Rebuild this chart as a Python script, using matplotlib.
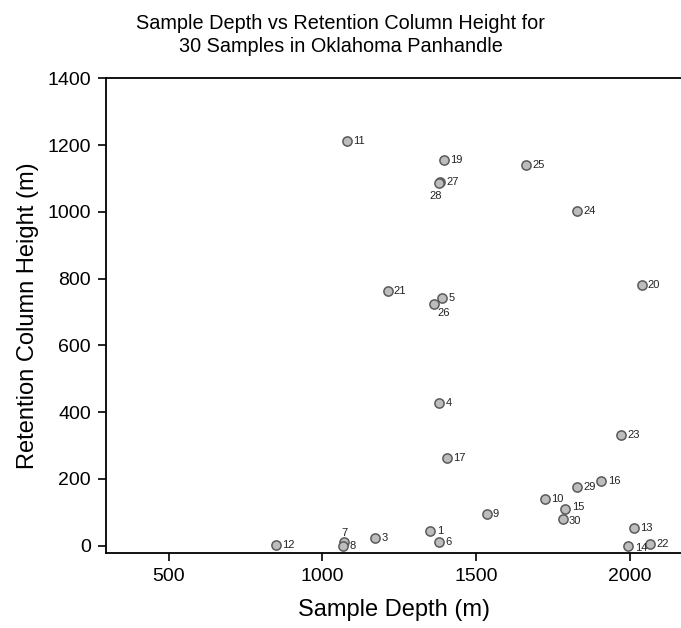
import numpy as np
import matplotlib
matplotlib.use('Agg')
import matplotlib.pyplot as plt

plt.rcParams['font.family'] = ['Liberation Sans', 'DejaVu Sans']

# sample data (samples 2 and 18 are not visible)
sample_ids = ['1', '3', '4', '5', '6', '7', '8', '9', '10', '11',
              '12', '13', '14', '15', '16', '17', '19', '20', '21', '22',
              '23', '24', '25', '26', '27', '28', '29', '30']
depth = [1351, 1171, 1380, 1390, 1378, 1071, 1068, 1534, 1724, 1080,
         848, 2014, 1993, 1790, 1907, 1405, 1394, 2038, 1212, 2066,
         1971, 1827, 1663, 1364, 1382, 1378, 1827, 1781]
height = [44, 23, 427, 743, 11, 10, 0, 94, 140, 1213,
          1, 52, 0, 109, 195, 264, 1156, 781, 763, 4,
          332, 1003, 1141, 723, 1088, 1085, 177, 80]

# label offsets in points (most sit to the right of the marker)
offsets = {'7': (-2, 7), '28': (-7, -9), '26': (2, -6), '14': (5, -2),
           '15': (4.5, 1.5), '30': (4.5, -1.5)}

fig = plt.figure(figsize=(6.81, 6.28), dpi=100)
ax = fig.add_axes([0.1557, 0.1199, 0.8443, 0.7554])

ax.scatter(depth, height, s=44, c='#bdbdbd', edgecolors='#5a5a5a',
           linewidths=1.1, zorder=3)

for sid, x, y in zip(sample_ids, depth, height):
    dx, dy = offsets.get(sid, (4.5, 0))
    ax.annotate(sid, (x, y), xytext=(dx, dy), textcoords='offset points',
                fontsize=8, ha='left', va='center', color='#222222')

ax.set_xlim(296, 2166)
ax.set_ylim(-21, 1400)
ax.set_xticks([500, 1000, 1500, 2000])
ax.set_yticks(np.arange(0, 1401, 200))

for side in ['left', 'bottom', 'top']:
    ax.spines[side].set_linewidth(1.3)
ax.spines['right'].set_visible(False)
ax.tick_params(direction='out', length=6, width=1.2, labelsize=14, pad=5)

ax.set_xlabel('Sample Depth (m)', fontsize=17, labelpad=10)
ax.set_ylabel('Retention Column Height (m)', fontsize=17, labelpad=6)
fig.text(0.5, 0.978, 'Sample Depth vs Retention Column Height for\n30 Samples in Oklahoma Panhandle',
         ha='center', va='top', fontsize=14.3, linespacing=1.3)

fig.savefig('out.png', dpi=100)
